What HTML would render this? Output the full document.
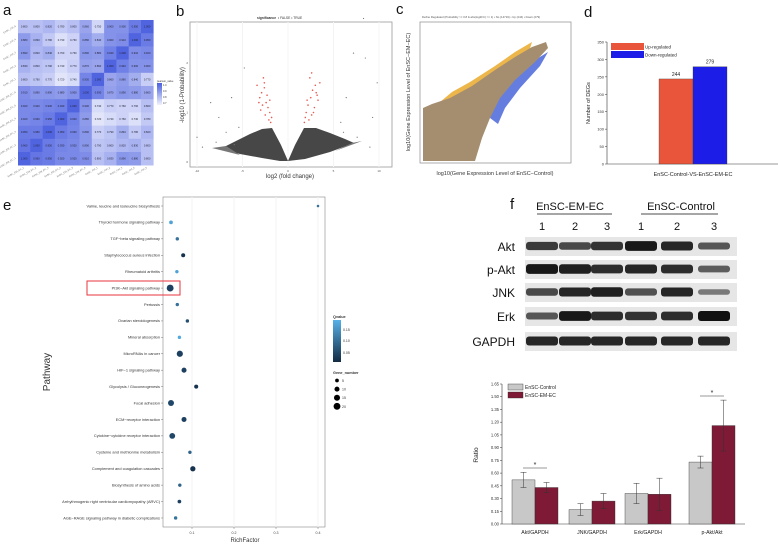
<!DOCTYPE html>
<html><head><meta charset="utf-8">
<style>
body{margin:0;background:#fff;font-family:"Liberation Sans",sans-serif;}
svg{display:block}
text{font-family:"Liberation Sans",sans-serif}
</style></head>
<body>
<svg id="fig" width="778" height="544" viewBox="0 0 778 544" xmlns="http://www.w3.org/2000/svg">
<g font-size="15" fill="#111">
<text x="3" y="15">a</text>
<text x="176" y="16">b</text>
<text x="396" y="14">c</text>
<text x="584" y="17">d</text>
<text x="3" y="210">e</text>
<text x="510" y="209">f</text>
</g>
<g id="heat"></g>
<g id="volcano"></g>
<g id="scatter"></g>
<g id="deg"></g>
<g id="kegg"></g>
<g id="blot"></g>
<g id="ratio"></g>
</svg>
<script>
const NS='http://www.w3.org/2000/svg';
function mk(parent,tag,attrs,txt){const e=document.createElementNS(NS,tag);for(const k in attrs)e.setAttribute(k,attrs[k]);if(txt!==undefined)e.textContent=txt;parent.appendChild(e);return e;}

// ---------- a: heatmap ----------
const heatValues=[
[0.80,0.80,0.82,0.78,0.80,0.86,0.75,0.90,0.90,0.95,1],
[0.88,0.83,0.78,0.73,0.76,0.88,0.84,0.90,0.91,1,0.95],
[0.89,0.82,0.84,0.76,0.76,0.89,0.88,0.94,1,0.91,0.92],
[0.83,0.80,0.79,0.74,0.77,0.87,0.86,1,0.94,0.90,0.90],
[0.80,0.79,0.77,0.72,0.74,0.93,1,0.86,0.88,0.84,0.77],
[0.91,0.89,0.89,0.88,0.90,1,0.93,0.87,0.89,0.88,0.86],
[0.92,0.92,0.93,0.94,1,0.90,0.74,0.77,0.76,0.76,0.80],
[0.92,0.93,0.95,1,0.94,0.88,0.72,0.74,0.76,0.73,0.78],
[0.95,0.95,1,0.95,0.93,0.89,0.77,0.79,0.84,0.78,0.82],
[0.96,1,0.95,0.93,0.92,0.89,0.79,0.80,0.82,0.83,0.80],
[1,0.96,0.95,0.92,0.92,0.91,0.80,0.83,0.89,0.88,0.80]];
const heatLabels=['EnSC_EM_EC_1','EnSC_EM_EC_2','EnSC_EM_EC_3','EnSC_EM_EC_4','EnSC_EM_EC_5','EnSC_EM_EC_6','EnSC_Ctrl_1','EnSC_Ctrl_2','EnSC_Ctrl_3','EnSC_Ctrl_4','EnSC_Ctrl_5'];
(function(){
 const g=document.getElementById('heat');
 const x0=18,y0=20,cw=12.3,ch=13.2;
 function col(v){const t=Math.max(0,Math.min(1,(v-0.7)/0.3));const r=Math.round(236-(236-80)*t),gg=Math.round(238-(238-100)*t),b=Math.round(252-(252-224)*t);return `rgb(${r},${gg},${b})`;}
 heatValues.forEach((row,r)=>row.forEach((v,c)=>{
  const e=mk(g,'rect',{x:x0+c*cw,y:y0+r*ch,width:cw+0.3,height:ch+0.3,fill:col(v)});
  
  
  const t=mk(g,'text',{x:x0+c*cw+cw/2,y:y0+r*ch+ch/2+1,'font-size':2.6,'text-anchor':'middle',fill:'#223'},v.toFixed(3));
  
  
 }));
 heatLabels.forEach((l,i)=>{
  const ry=y0+(10-i)*ch+ch/2;
  const t=mk(g,'text',{x:x0-2,y:ry,'font-size':2.4,'text-anchor':'end',fill:'#666',transform:`rotate(-30 ${x0-2} ${ry})`},l);
  
  
  const bx=x0+i*cw+cw/2,by=y0+11*ch+3;
  const t2=mk(g,'text',{x:bx,y:by,'font-size':2.4,'text-anchor':'end',fill:'#666',transform:`rotate(-30 ${bx} ${by})`},l);
  
  
 });
 const lg=mk(g,'defs',{});const gr=mk(lg,'linearGradient',{id:'hg',x1:0,y1:0,x2:0,y2:1});
 mk(gr,'stop',{offset:0,'stop-color':'#4a5fde'});mk(gr,'stop',{offset:1,'stop-color':'#f0f2fc'});
 const lb=mk(g,'rect',{x:157,y:83,width:5,height:22,fill:'url(#hg)'});
 
 
 mk(g,'text',{x:157,y:82,'font-size':2.5,fill:'#333'},'pearson_value');
 ['1.0','0.9','0.8','0.7'].forEach((s,i)=>mk(g,'text',{x:163,y:86+i*6,'font-size':2.5,fill:'#333'},s));
})();

// ---------- b: volcano ----------
const volcanoRedX=[-3.1,-2.9,-2.6,-2.4,-2.2,-2.0,-1.8,-3.4,-2.7,-2.3,-2.0,-3.0,-2.5,-2.8,-2.1,-1.9,-3.2,-2.6,2.0,2.2,2.5,2.7,3.0,3.2,2.4,2.1,2.9,3.5,2.6,1.9,3.3,2.8,2.3,1.8,3.1,2.6];
const volcanoRedY=[1.3,1.4,1.5,1.2,1.1,1.0,0.9,1.55,1.7,1.35,1.25,1.05,0.95,1.15,0.85,0.8,1.2,1.6,1.0,1.15,1.3,1.45,1.55,1.35,1.7,1.25,1.1,1.6,0.95,0.9,1.25,1.0,0.85,0.8,1.4,1.8];
const volcanoGrayX=[-10,-8.5,-7.6,-6.8,-5.4,-6.2,-4.8,-9.4,-7.9,-5.9,7.2,8.5,9.3,9.8,6.4,5.8,6.1,8.3,7.6,9.0];
const volcanoGrayY=[0.5,1.2,0.9,0.6,0.7,1.3,1.9,0.3,0.4,0.35,2.2,2.1,0.9,1.6,1.3,0.8,0.6,2.9,0.5,0.3];
(function(){
 const g=document.getElementById('volcano');
 const L=190,R=392,T=22,B=167;
 const sx=v=>288+v*9.1, sy=v=>162-v*49.5;
 mk(g,'rect',{x:L,y:T,width:R-L,height:B-T,fill:'#fff',stroke:'#999','stroke-width':0.8});
 [-10,-5,0,5,10].forEach(v=>{mk(g,'line',{x1:sx(v),y1:T,x2:sx(v),y2:B,stroke:'#f4f4f4'});mk(g,'text',{x:sx(v),y:B+5,'font-size':3,'text-anchor':'middle',fill:'#555'},v);});
 [0,1,2].forEach(v=>mk(g,'text',{x:L-2,y:sy(v)+1,'font-size':3,'text-anchor':'end',fill:'#555'},v));
 const cloud=mk(g,'path',{d:'M288,161 L281,145 L272,128 L262,129 L250,134 L238,140 L226,146 L220,149 L240,154 L262,158 L280,161 Z M288,161 L295,145 L304,128 L316,128 L330,133 L345,139 L354,143 L330,152 L305,159 Z',fill:'#474747'});
 
 
 mk(g,'path',{d:'M226,146 L212,148 L240,155 Z M352,143 L362,141 L335,151 Z',fill:'#777'});
 volcanoGrayX.forEach((v,i)=>{const p=mk(g,'circle',{cx:sx(v),cy:sy(volcanoGrayY[i]),r:0.6,fill:'#777'});});
 volcanoRedX.forEach((v,i)=>{const p=mk(g,'circle',{cx:sx(v),cy:sy(volcanoRedY[i]),r:0.8,fill:'#e8584f'});});
 mk(g,'text',{x:290,y:178,'font-size':6,'text-anchor':'middle',fill:'#333'},'log2 (fold change)');
 mk(g,'text',{x:184,y:95,'font-size':6,'text-anchor':'middle',fill:'#333',transform:'rotate(-90 184 95)'},'-log10 (1-Probability)');
 mk(g,'text',{x:257,y:19,'font-size':3.3,fill:'#333','font-weight':'bold'},'significance');
 mk(g,'text',{x:278,y:19,'font-size':3.3,fill:'#333'},'•  FALSE   •  TRUE');
})();

// ---------- c: scatter ----------
(function(){
 const g=document.getElementById('scatter');
 const L=420,R=571,T=22,B=163;
 mk(g,'rect',{x:L,y:T,width:R-L,height:B-T,fill:'#fff',stroke:'#999','stroke-width':0.8});
 const o=mk(g,'path',{d:'M440,102 L452,92 L470,82 L495,66 L515,52 L532,42 L528,55 L505,70 L480,86 L458,98 Z',fill:'#eaa92a',opacity:0.85});
 
 const bl=mk(g,'path',{d:'M492,100 L512,78 L535,60 L548,52 L540,66 L520,88 L505,108 L498,124 L490,118 Z',fill:'#4a66d8',opacity:0.85});
 
 const br=mk(g,'path',{d:'M423,161 L423,108 L432,104 L450,98 L472,86 L495,70 L515,57 L532,47 L546,42 L548,48 L535,62 L515,80 L500,98 L490,118 L482,138 L475,161 Z',fill:'#a58e70'});
 
 mk(g,'text',{x:495,y:175,'font-size':5.5,'text-anchor':'middle',fill:'#333'},'log10(Gene Expression Level of EnSC−Control)');
 mk(g,'text',{x:410,y:92,'font-size':5.5,'text-anchor':'middle',fill:'#333',transform:'rotate(-90 410 92)'},'log10(Gene Expression Level of EnSC−EM−EC)');
 mk(g,'text',{x:422,y:18,'font-size':2.8,fill:'#555'},'Define Regulated (Probability >= 0.8 & abs(log2FC) >= 1)   • No (14719)   • Up (244)   • Down (279)');
})();

// ---------- d: DEG bars ----------
const degGroups=['Up-regulated','Down-regulated'];
const degValues=[244,279];
const degTicks=[0,50,100,150,200,250,300,350];
(function(){
 const g=document.getElementById('deg');
 const L=607,B=164,k=(164-42)/350;
 const y=v=>B-v*k;
 mk(g,'line',{x1:L,y1:y(350),x2:L,y2:B,stroke:'#333','stroke-width':0.6});
 mk(g,'line',{x1:L,y1:B,x2:778,y2:B,stroke:'#333','stroke-width':0.6});
 degTicks.forEach(v=>{mk(g,'line',{x1:L-2,y1:y(v),x2:L,y2:y(v),stroke:'#333','stroke-width':0.5});mk(g,'text',{x:L-3,y:y(v)+1.5,'font-size':4,'text-anchor':'end',fill:'#333'},v);});
 const cols=['#e8553a','#1d1de8'];
 degValues.forEach((v,i)=>{
  const r=mk(g,'rect',{x:659+i*34,y:y(v),width:34,height:v*k,fill:cols[i],stroke:'#333','stroke-width':0.3});
  
  
  mk(g,'text',{x:676+i*34,y:y(v)-3,'font-size':5,'text-anchor':'middle',fill:'#222'},v);
  mk(g,'rect',{x:611,y:43+i*8,width:33,height:7,fill:cols[i]});
  mk(g,'text',{x:645,y:48.5+i*8,'font-size':4.5,fill:'#222'},degGroups[i]);
 });
 mk(g,'text',{x:693,y:176,'font-size':5.5,'text-anchor':'middle',fill:'#222'},'EnSC-Control-VS-EnSC-EM-EC');
 mk(g,'text',{x:590,y:103,'font-size':5.5,'text-anchor':'middle',fill:'#222',transform:'rotate(-90 590 103)'},'Number of DEGs');
})();

// ---------- e: KEGG bubble ----------
const pathways=['Valine, leucine and isoleucine biosynthesis','Thyroid hormone signaling pathway','TGF−beta signaling pathway','Staphylococcus aureus infection','Rheumatoid arthritis','PI3K−Akt signaling pathway','Pertussis','Ovarian steroidogenesis','Mineral absorption','MicroRNAs in cancer','HIF−1 signaling pathway','Glycolysis / Gluconeogenesis','Focal adhesion','ECM−receptor interaction','Cytokine−cytokine receptor interaction','Cysteine and methionine metabolism','Complement and coagulation cascades','Biosynthesis of amino acids','Arrhythmogenic right ventricular cardiomyopathy (ARVC)','AGE−RAGE signaling pathway in diabetic complications'];
const richFactor=[0.4,0.05,0.065,0.079,0.064,0.048,0.065,0.089,0.07,0.071,0.081,0.11,0.05,0.081,0.053,0.095,0.102,0.071,0.07,0.061];
const geneNumber=[2,5,4,6,4,20,4,4,4,16,10,6,15,10,14,4,11,4,5,4];
const qValue=[0.1,0.17,0.1,0.01,0.17,0.03,0.1,0.05,0.18,0.03,0.03,0.01,0.04,0.03,0.04,0.08,0.01,0.08,0.03,0.1];
const richTicks=[0.1,0.2,0.3,0.4];
(function(){
 const g=document.getElementById('kegg');
 const L=163,R=325,T=197,B=527;
 const sx=v=>150+v*420, sy=i=>206+i*16.42;
 mk(g,'rect',{x:L,y:T,width:R-L,height:B-T,fill:'#fff',stroke:'#888','stroke-width':0.6});
 richTicks.forEach(v=>{mk(g,'line',{x1:sx(v),y1:T,x2:sx(v),y2:B,stroke:'#f3f3f3'});mk(g,'line',{x1:sx(v),y1:B,x2:sx(v),y2:B+2,stroke:'#555','stroke-width':0.4});mk(g,'text',{x:sx(v),y:B+7,'font-size':3.6,'text-anchor':'middle',fill:'#444'},v);});
 function qc(q){const t=Math.min(1,q/0.19);const r=Math.round(19+t*(86-19)),gg=Math.round(43+t*(177-43)),b=Math.round(70+t*(232-70));return `rgb(${r},${gg},${b})`;}
 pathways.forEach((p,i)=>{
  mk(g,'line',{x1:L-2,y1:sy(i),x2:L,y2:sy(i),stroke:'#555','stroke-width':0.4});
  const t=mk(g,'text',{x:L-3,y:sy(i)+1.3,'font-size':3.9,'text-anchor':'end',fill:'#333'},p);
  
  
  const c=mk(g,'circle',{cx:sx(richFactor[i]),cy:sy(i),r:0.3+Math.sqrt(geneNumber[i])*0.7,fill:qc(qValue[i])});
  
  
 });
 const hb=mk(g,'rect',{x:87,y:281,width:93,height:14,fill:'none',stroke:'#e8343f','stroke-width':1});
 
 mk(g,'text',{x:245,y:542,'font-size':6,'text-anchor':'middle',fill:'#333'},'RichFactor');
 mk(g,'text',{x:50,y:372,'font-size':10,'text-anchor':'middle',fill:'#333',transform:'rotate(-90 50 372)'},'Pathway');
 const d=mk(g,'defs',{});const gr=mk(d,'linearGradient',{id:'qg',x1:0,y1:0,x2:0,y2:1});
 mk(gr,'stop',{offset:0,'stop-color':'#56b1e8'});mk(gr,'stop',{offset:1,'stop-color':'#132b43'});
 mk(g,'text',{x:333,y:318,'font-size':3.8,'font-weight':'bold',fill:'#333'},'Qvalue');
 mk(g,'rect',{x:333,y:320,width:8,height:42,fill:'url(#qg)'});
 [['0.15',330],['0.10',341],['0.05',353]].forEach(a=>mk(g,'text',{x:343,y:a[1]+1,'font-size':3.5,fill:'#333'},a[0]));
 mk(g,'text',{x:333,y:374,'font-size':3.8,'font-weight':'bold',fill:'#333'},'Gene_number');
 [5,10,15,20].forEach((n,i)=>{mk(g,'circle',{cx:337,cy:380.5+i*8.6,r:0.3+Math.sqrt(n)*0.7,fill:'#000'});mk(g,'text',{x:342,y:382+i*8.6,'font-size':3.5,fill:'#333'},n);});
})();

// ---------- f: western blot ----------
const blotProteins=['Akt','p-Akt','JNK','Erk','GAPDH'];
const blotY=[247,270,293,317,342];
const bandIntensity=[[0.7,0.6,0.75,0.95,0.85,0.5],[0.95,0.9,0.8,0.85,0.8,0.45],[0.6,0.85,0.9,0.55,0.85,0.25],[0.5,0.95,0.8,0.75,0.8,1],[0.85,0.85,0.85,0.85,0.85,0.85]];
(function(){
 const g=document.getElementById('blot');
 const lanes=[542,575,607,641,677,714];
 mk(g,'text',{x:570,y:210,'font-size':11,'text-anchor':'middle',fill:'#111'},'EnSC-EM-EC');
 mk(g,'text',{x:681,y:210,'font-size':11,'text-anchor':'middle',fill:'#111'},'EnSC-Control');
 mk(g,'line',{x1:537,y1:214,x2:612,y2:214,stroke:'#111','stroke-width':0.8});
 mk(g,'line',{x1:641,y1:214,x2:718,y2:214,stroke:'#111','stroke-width':0.8});
 lanes.forEach((x,i)=>mk(g,'text',{x:x,y:230,'font-size':11,'text-anchor':'middle',fill:'#111'},[1,2,3,1,2,3][i]));
 blotProteins.forEach((p,r)=>{
  const y=blotY[r];
  mk(g,'rect',{x:525,y:y-10,width:212,height:19,fill:'#e6e6e6'});
  mk(g,'text',{x:515,y:y+4,'font-size':12,'text-anchor':'end',fill:'#111'},p);
  bandIntensity[r].forEach((v,i)=>{
   const b=mk(g,'rect',{x:lanes[i]-16,y:y-3-v*3,width:32,height:4+v*6,rx:3,fill:'#111',opacity:0.35+v*0.65});
   
   
  });
 });
})();

// ---------- f: ratio bars ----------
const ratioCategories=['Akt/GAPDH','JNK/GAPDH','Erk/GAPDH','p-Akt/Akt'];
const controlValues=[0.52,0.17,0.36,0.73];
const emecValues=[0.43,0.27,0.35,1.16];
const controlErr=[0.09,0.07,0.12,0.07];
const emecErr=[0.06,0.09,0.19,0.30];
const ratioTicks=[0,0.15,0.30,0.45,0.60,0.75,0.90,1.05,1.20,1.35,1.50,1.65];
(function(){
 const g=document.getElementById('ratio');
 const L=502,B=524,k=(524-384)/1.65;
 const y=v=>B-v*k;
 const centers=[535,592,648,712];
 mk(g,'line',{x1:L,y1:y(1.65),x2:L,y2:B,stroke:'#333','stroke-width':0.6});
 mk(g,'line',{x1:L,y1:B,x2:745,y2:B,stroke:'#333','stroke-width':0.6});
 ratioTicks.forEach(v=>{mk(g,'line',{x1:L-2,y1:y(v),x2:L,y2:y(v),stroke:'#333','stroke-width':0.5});mk(g,'text',{x:L-3,y:y(v)+1.5,'font-size':4.2,'text-anchor':'end',fill:'#333'},v.toFixed(2));});
 function bar(x,v,e,fill,name){
  const r=mk(g,'rect',{x:x,y:y(v),width:23,height:v*k,fill:fill,stroke:'#333','stroke-width':0.4});
  
  
  const cx=x+11.5;
  mk(g,'line',{x1:cx,y1:y(v+e),x2:cx,y2:y(v-e),stroke:'#333','stroke-width':0.5});
  mk(g,'line',{x1:cx-3,y1:y(v+e),x2:cx+3,y2:y(v+e),stroke:'#333','stroke-width':0.5});
  mk(g,'line',{x1:cx-3,y1:y(v-e),x2:cx+3,y2:y(v-e),stroke:'#333','stroke-width':0.5});
 }
 ratioCategories.forEach((c,i)=>{
  bar(centers[i]-23,controlValues[i],controlErr[i],'#c8c8c8','bar-control');
  bar(centers[i],emecValues[i],emecErr[i],'#7e1a35','bar-em-ec');
  mk(g,'text',{x:centers[i],y:534,'font-size':5.2,'text-anchor':'middle',fill:'#222'},c);
 });
 mk(g,'line',{x1:523,y1:468,x2:547,y2:468,stroke:'#333','stroke-width':0.6});
 mk(g,'text',{x:535,y:467,'font-size':7,'text-anchor':'middle',fill:'#222'},'*');
 mk(g,'line',{x1:700,y1:396,x2:724,y2:396,stroke:'#333','stroke-width':0.6});
 mk(g,'text',{x:712,y:395,'font-size':7,'text-anchor':'middle',fill:'#222'},'*');
 mk(g,'rect',{x:508,y:384,width:15,height:6,fill:'#c8c8c8',stroke:'#333','stroke-width':0.4});
 mk(g,'text',{x:525,y:389,'font-size':5,fill:'#222'},'EnSC-Control');
 mk(g,'rect',{x:508,y:392,width:15,height:6,fill:'#7e1a35',stroke:'#333','stroke-width':0.4});
 mk(g,'text',{x:525,y:397,'font-size':5,fill:'#222'},'EnSC-EM-EC');
 mk(g,'text',{x:478,y:455,'font-size':6.5,'text-anchor':'middle',fill:'#222',transform:'rotate(-90 478 455)'},'Ratio');
})();
</script>
</body></html>
